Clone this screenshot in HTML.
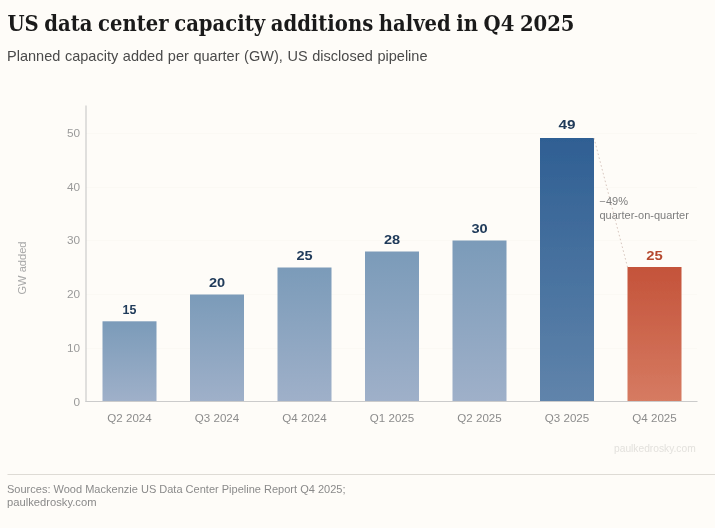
<!DOCTYPE html>
<html lang="en">
<head>
<meta charset="utf-8">
<title>US data center capacity additions halved in Q4 2025</title>
<style>
html,body{margin:0;padding:0;background:#fefcf8;}
body{width:715px;height:528px;overflow:hidden;}
svg{display:block;}
.sans{font-family:"Liberation Sans",Arial,Helvetica,sans-serif;}
.serif{font-family:"DejaVu Serif Condensed","DejaVu Serif","Liberation Serif",serif;}
</style>
</head>
<body>
<svg width="715" height="528" viewBox="0 0 715 528">
  <defs>
    <linearGradient id="gl" x1="0" y1="0" x2="0" y2="1">
      <stop offset="0" stop-color="#7b9bb9"/>
      <stop offset="1" stop-color="#9fb0c9"/>
    </linearGradient>
    <linearGradient id="gd" x1="0" y1="0" x2="0" y2="1">
      <stop offset="0" stop-color="#2f5f93"/>
      <stop offset="1" stop-color="#6084ab"/>
    </linearGradient>
    <linearGradient id="gr" x1="0" y1="0" x2="0" y2="1">
      <stop offset="0" stop-color="#c4533a"/>
      <stop offset="1" stop-color="#d67b62"/>
    </linearGradient>
    <filter id="soft" x="-5%" y="-5%" width="110%" height="110%"><feGaussianBlur stdDeviation="0.35"/></filter>
  </defs>
  <rect x="0" y="0" width="715" height="528" fill="#fefcf8"/>

  <!-- title -->
  <text class="serif" x="7.5" y="30.8" font-size="22.1" style="word-spacing:-1.3px" font-weight="700" fill="#1a1a1a" textLength="567" lengthAdjust="spacingAndGlyphs">US data center capacity additions halved in Q4 2025</text>
  <text class="sans" x="7" y="61.3" font-size="14.6" fill="#4a4a4a" style="word-spacing:0.6px" textLength="420.5" lengthAdjust="spacingAndGlyphs">Planned capacity added per quarter (GW), US disclosed pipeline</text>

  <!-- gridlines -->
  <g stroke="#fbf9f4" stroke-width="1">
    <line x1="86" x2="697" y1="133.5" y2="133.5"/>
    <line x1="86" x2="697" y1="187.5" y2="187.5"/>
    <line x1="86" x2="697" y1="240.5" y2="240.5"/>
    <line x1="86" x2="697" y1="294.5" y2="294.5"/>
    <line x1="86" x2="697" y1="348.5" y2="348.5"/>
  </g>

  <!-- bars -->
  <g filter="url(#soft)">
    <rect x="102.5" y="321.3" width="54" height="80.2" fill="url(#gl)"/>
    <rect x="190" y="294.5" width="54" height="107" fill="url(#gl)"/>
    <rect x="277.5" y="267.5" width="54" height="134" fill="url(#gl)"/>
    <rect x="365" y="251.5" width="54" height="150" fill="url(#gl)"/>
    <rect x="452.5" y="240.5" width="54" height="161" fill="url(#gl)"/>
    <rect x="540" y="138" width="54" height="263.5" fill="url(#gd)"/>
    <rect x="627.5" y="267" width="54" height="134.5" fill="url(#gr)"/>
  </g>

  <!-- axes -->
  <line x1="86" x2="86" y1="105.5" y2="402" stroke="#c2c2c2" stroke-width="1"/>
  <line x1="85.5" x2="697.5" y1="401.5" y2="401.5" stroke="#cbcbcb" stroke-width="1"/>

  <!-- dashed connector -->
  <line x1="594" y1="138" x2="627.5" y2="267" stroke="#cdb9b0" stroke-width="0.8" stroke-dasharray="1.6 2.4"/>

  <!-- y tick labels -->
  <g class="sans" font-size="11.8" fill="#9a9a9a" text-anchor="end">
    <text x="80" y="136.7">50</text>
    <text x="80" y="190.5">40</text>
    <text x="80" y="244.4">30</text>
    <text x="80" y="298">20</text>
    <text x="80" y="352.2">10</text>
    <text x="80" y="405.7">0</text>
  </g>
  <text class="sans" font-size="11.1" fill="#a8a8a8" text-anchor="middle" transform="translate(26.2 268) rotate(-90)">GW added</text>

  <!-- x labels -->
  <g class="sans" font-size="11.7" fill="#8c8c8c" text-anchor="middle">
    <text x="129.5" y="421.8" textLength="44.4" lengthAdjust="spacingAndGlyphs">Q2 2024</text>
    <text x="217" y="421.8" textLength="44.4" lengthAdjust="spacingAndGlyphs">Q3 2024</text>
    <text x="304.5" y="421.8" textLength="44.4" lengthAdjust="spacingAndGlyphs">Q4 2024</text>
    <text x="392" y="421.8" textLength="44.4" lengthAdjust="spacingAndGlyphs">Q1 2025</text>
    <text x="479.5" y="421.8" textLength="44.4" lengthAdjust="spacingAndGlyphs">Q2 2025</text>
    <text x="567" y="421.8" textLength="44.4" lengthAdjust="spacingAndGlyphs">Q3 2025</text>
    <text x="654.5" y="421.8" textLength="44.4" lengthAdjust="spacingAndGlyphs">Q4 2025</text>
  </g>

  <!-- value labels -->
  <g class="sans" font-size="12" font-weight="700" fill="#203b5a" text-anchor="middle" lengthAdjust="spacingAndGlyphs">
    <text x="129.5" y="313.5" textLength="13.8" lengthAdjust="spacingAndGlyphs">15</text>
    <text x="217" y="286.6" textLength="16.2" lengthAdjust="spacingAndGlyphs">20</text>
    <text x="304.5" y="259.8" textLength="16.2" lengthAdjust="spacingAndGlyphs">25</text>
    <text x="392" y="243.6" textLength="16.2" lengthAdjust="spacingAndGlyphs">28</text>
    <text x="479.5" y="232.6" textLength="16.2" lengthAdjust="spacingAndGlyphs">30</text>
    <text x="567" y="128.8" textLength="17" lengthAdjust="spacingAndGlyphs">49</text>
    <text x="654.5" y="259.6" fill="#b5482e" textLength="16.5" lengthAdjust="spacingAndGlyphs">25</text>
  </g>

  <!-- annotation -->
  <g class="sans" font-size="10" fill="#7d7d7d">
    <text x="599.5" y="204.7" textLength="28.5" lengthAdjust="spacingAndGlyphs">−49%</text>
    <text x="599.5" y="218.8" textLength="89.3" lengthAdjust="spacingAndGlyphs">quarter-on-quarter</text>
  </g>

  <!-- watermark -->
  <text class="sans" x="614" y="451.5" font-size="10.3" fill="#e3e1dd" textLength="81.7" lengthAdjust="spacingAndGlyphs">paulkedrosky.com</text>

  <!-- footer -->
  <line x1="7.5" x2="715" y1="474.5" y2="474.5" stroke="#dedbd5" stroke-width="1"/>
  <g class="sans" font-size="11.3" fill="#8a8a8a">
    <text x="7" y="493.1" textLength="338.5" lengthAdjust="spacingAndGlyphs">Sources: Wood Mackenzie US Data Center Pipeline Report Q4 2025;</text>
    <text x="7" y="505.9" textLength="89.5" lengthAdjust="spacingAndGlyphs">paulkedrosky.com</text>
  </g>
</svg>
</body>
</html>
